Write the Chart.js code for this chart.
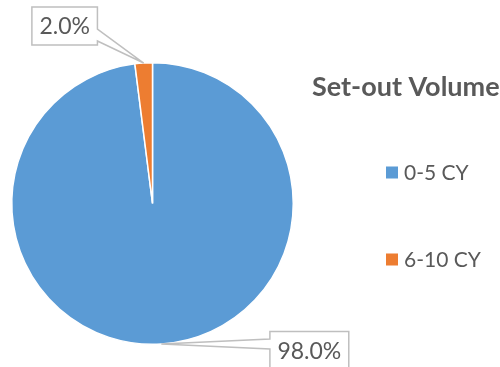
<!DOCTYPE html>
<html>
<head>
<meta charset="utf-8">
<script src="https://cdn.jsdelivr.net/npm/chart.js@4.4.1/dist/chart.umd.min.js"></script>
<style>
  html, body { margin: 0; padding: 0; background: #fff; }
</style>
</head>
<body>
<canvas id="pieChart" width="500" height="367"></canvas>
<script>
// data
const categories = ["0-5 CY", "6-10 CY"];
const shares = [98.0, 2.0];
const sliceColors = ["#5B9BD5", "#ED7D31"];
const chartTitle = "Set-out Volume";

const textColor = "#595959";
const fontFace = "Lato, 'Open Sans', sans-serif";

// Callout boxes with a pointer to each slice
const calloutPlugin = {
  id: "callouts",
  afterDatasetsDraw(chart) {
    const ctx = chart.ctx;
    const meta = chart.getDatasetMeta(0);
    // box centre offset from the slice tip
    const offsets = [{ dx: 148, dy: 6.5 }, { dx: -79, dy: -37 }];

    meta.data.forEach((arc, i) => {
      const mid = (arc.startAngle + arc.endAngle) / 2;
      const tipX = arc.x + Math.cos(mid) * arc.outerRadius;
      const tipY = arc.y + Math.sin(mid) * arc.outerRadius;
      const label = shares[i].toFixed(1) + "%";

      ctx.save();
      ctx.font = "23px " + fontFace;
      const w = ctx.measureText(label).width + 15;
      const h = 38;
      const cx = tipX + offsets[i].dx;
      const cy = tipY + offsets[i].dy;
      const L = cx - w / 2, R = cx + w / 2, T = cy - h / 2, B = cy + h / 2;
      const c = Math.min(Math.max(tipY, T + 10), B - 10);

      ctx.beginPath();
      ctx.moveTo(L, T);
      ctx.lineTo(R, T);
      if (tipX > R) {
        ctx.lineTo(R, c - 6);
        ctx.lineTo(tipX, tipY);
        ctx.lineTo(R, c + 6);
        ctx.lineTo(R, B);
        ctx.lineTo(L, B);
      } else {
        ctx.lineTo(R, B);
        ctx.lineTo(L, B);
        ctx.lineTo(L, c + 5);
        ctx.lineTo(tipX, tipY);
        ctx.lineTo(L, c - 5);
      }
      ctx.closePath();
      ctx.fillStyle = "#ffffff";
      ctx.fill();
      ctx.lineWidth = 1.5;
      ctx.strokeStyle = "#BFBFBF";
      ctx.stroke();

      ctx.fillStyle = textColor;
      ctx.textAlign = "center";
      ctx.textBaseline = "middle";
      ctx.fillText(label, cx, cy + 1);
      ctx.restore();
    });
  }
};

// Title and legend on the right
const sideLegendPlugin = {
  id: "sideLegend",
  afterDraw(chart) {
    const ctx = chart.ctx;
    ctx.save();
    ctx.fillStyle = textColor;
    ctx.textBaseline = "middle";
    ctx.font = "bold 27px " + fontFace;
    ctx.fillText(chartTitle, 312, 87);

    const rows = [172.5, 259.5];
    ctx.font = "21px " + fontFace;
    categories.forEach((name, i) => {
      ctx.fillStyle = sliceColors[i];
      ctx.fillRect(386, rows[i] - 6, 12, 12);
      ctx.fillStyle = textColor;
      ctx.fillText(name, 404, rows[i] + 1);
    });
    ctx.restore();
  }
};

new Chart(document.getElementById("pieChart"), {
  type: "pie",
  data: {
    labels: categories,
    datasets: [
      {
        data: shares,
        backgroundColor: sliceColors,
        borderColor: "#ffffff",
        borderWidth: 1.5,
      },
    ],
  },
  options: {
    responsive: false,
    animation: false,
    layout: {
      padding: { left: 11, top: 61, right: 206, bottom: 21 },
    },
    plugins: {
      legend: { display: false },
      tooltip: { enabled: false },
    },
  },
  plugins: [calloutPlugin, sideLegendPlugin],
});
</script>
</body>
</html>
